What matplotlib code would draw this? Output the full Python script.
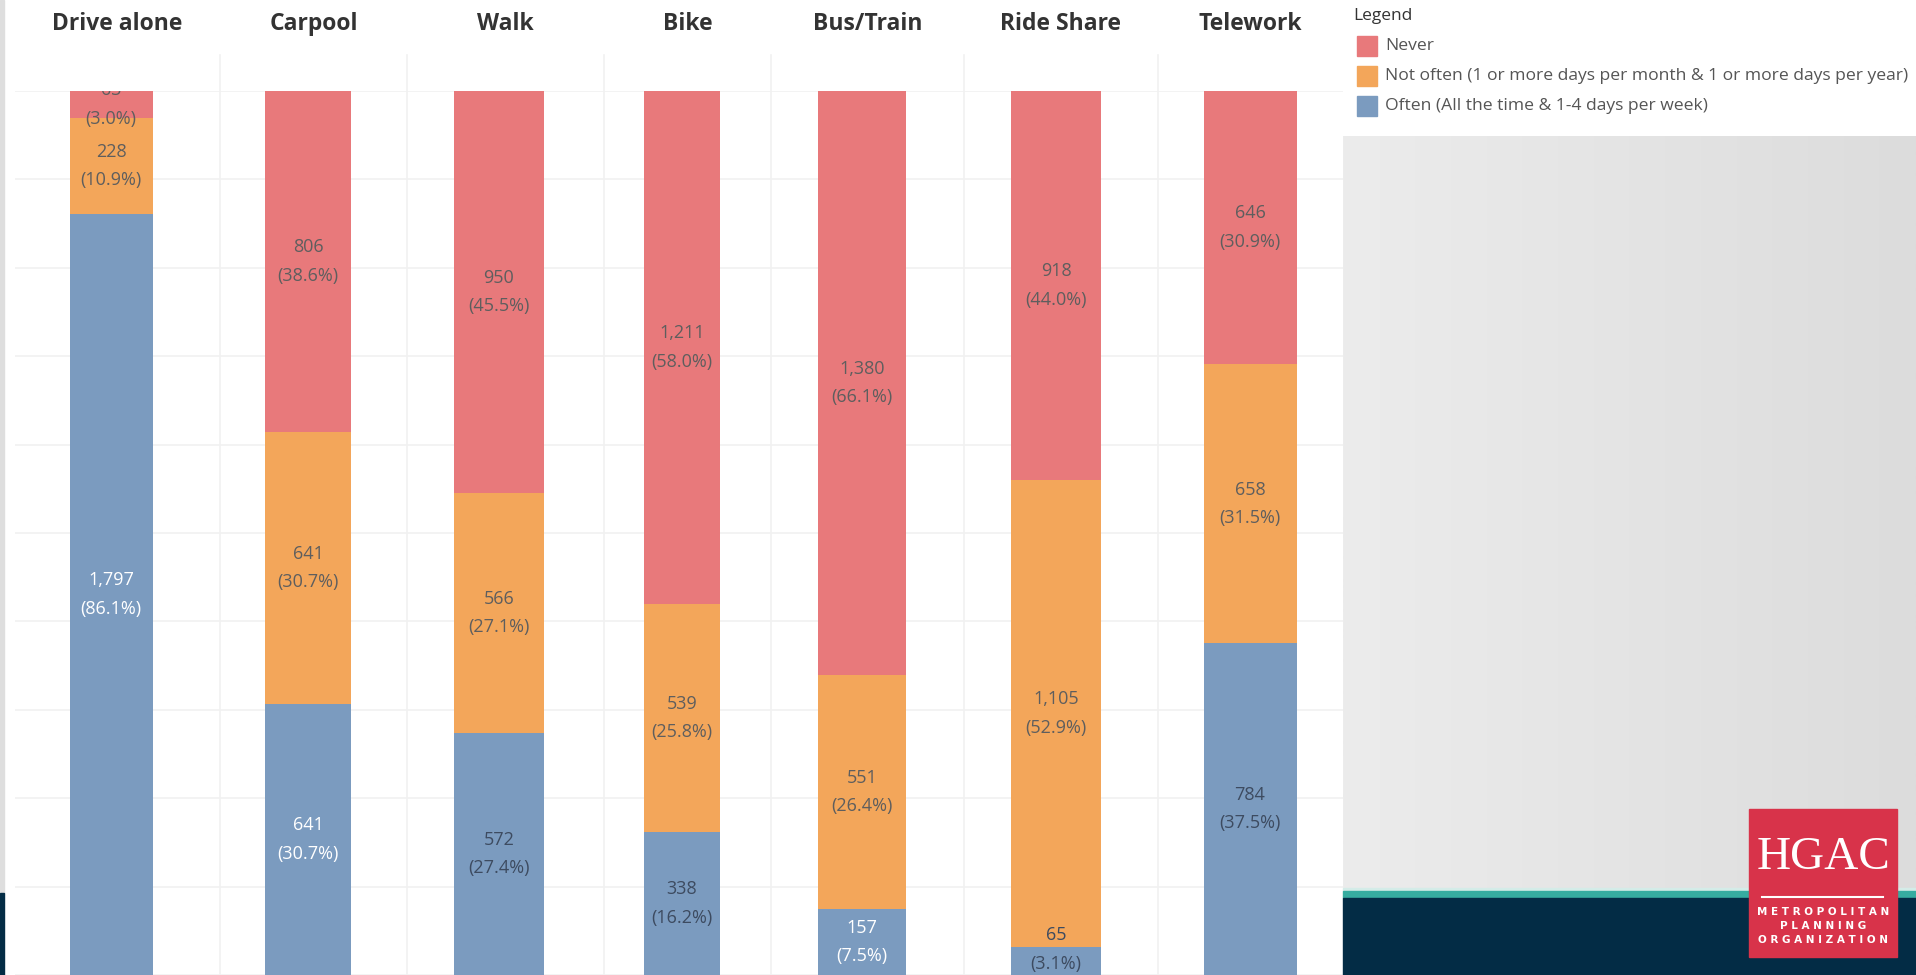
import numpy as np
import matplotlib
matplotlib.use("Agg")
import matplotlib.pyplot as plt
from matplotlib.patches import Rectangle
from matplotlib.lines import Line2D
from matplotlib.colors import LinearSegmentedColormap

# survey counts per commute mode (stacked: often at bottom, never on top)
modes = ["Drive alone", "Carpool", "Walk", "Bike", "Bus/Train", "Ride Share", "Telework"]
never = [63, 806, 950, 1211, 1380, 918, 646]
not_often = [228, 641, 566, 539, 551, 1105, 658]
often = [1797, 641, 572, 338, 157, 65, 784]
never_pct = [3.0, 38.6, 45.5, 58.0, 66.1, 44.0, 30.9]
not_often_pct = [10.9, 30.7, 27.1, 25.8, 26.4, 52.9, 31.5]
often_pct = [86.1, 30.7, 27.4, 16.2, 7.5, 3.1, 37.5]
series_names = ["Never",
                "Not often (1 or more days per month & 1 or more days per year)",
                "Often (All the time & 1-4 days per week)"]

# layout (pixels of the 1916x975 canvas)
W, H = 1916, 975
pane_edges = [15, 220, 407, 604, 771, 964, 1158, 1343]
bar_centers = [111, 308, 499, 682, 862, 1056, 1250]
bar_widths = [83, 86, 90, 76, 88, 90, 93]
bar_top_px = 91
white_often_label = [True, True, False, False, True, False, False]

c_never = "#e8797b"
c_notoften = "#f3a65a"
c_often = "#7b9bbf"
label_dark = "#5e5e5e"
grid_c = "#f1f1f1"


def px_box(x0, y0, x1, y1):
    return [x0 / W, 1 - y1 / H, (x1 - x0) / W, (y1 - y0) / H]


fig = plt.figure(figsize=(W / 100, H / 100), dpi=100)
fig.patch.set_facecolor("white")

# slide decoration on the right
bg = fig.add_axes(px_box(1343, 136, W, 890))
grad = np.linspace(0, 1, 256).reshape(1, -1)
bg.imshow(grad, aspect="auto", cmap=LinearSegmentedColormap.from_list("g", ["#ececec", "#dcdcdc"]))
bg.axis("off")
fig.patches.append(Rectangle((1343 / W, 1 - 891 / H), 1, 3 / H, transform=fig.transFigure,
                             color="#d4ece8", zorder=1))
fig.patches.append(Rectangle((1343 / W, 1 - 898 / H), 1, 7 / H, transform=fig.transFigure,
                             color="#36aca0", zorder=1))
fig.patches.append(Rectangle((1343 / W, 0), 1, 1 - 898 / H, transform=fig.transFigure,
                             color="#032c45", zorder=1))
fig.patches.append(Rectangle((0, 1 - 893 / H), 4 / W, 893 / H, transform=fig.transFigure,
                             color="#dedede", zorder=1))
fig.patches.append(Rectangle((0, 0), 4 / W, 1 - 893 / H, transform=fig.transFigure,
                             color="#032c45", zorder=1))

total = max(np.array(never) + np.array(not_often) + np.array(often))
ticks = np.arange(0, total + 1, total / 10)

for i, mode in enumerate(modes):
    x0, x1 = pane_edges[i], pane_edges[i + 1]
    ax = fig.add_axes(px_box(x0, bar_top_px, x1, H))
    pw = x1 - x0
    pos = (bar_centers[i] - (x0 + x1) / 2) / pw
    bw = bar_widths[i] / pw
    ax.set_xlim(-0.5, 0.5)
    ax.set_ylim(0, total)
    for t in ticks:
        ax.axhline(t, color=grid_c, lw=1.2, zorder=0)
    ax.bar(pos, often[i], bw, color=c_often, zorder=2)
    ax.bar(pos, not_often[i], bw, bottom=often[i], color=c_notoften, zorder=2)
    ax.bar(pos, never[i], bw, bottom=often[i] + not_often[i], color=c_never, zorder=2)

    segs = [(often[i], often_pct[i], 0, "white" if white_often_label[i] else "#3d4b60"),
            (not_often[i], not_often_pct[i], often[i], label_dark),
            (never[i], never_pct[i], often[i] + not_often[i], label_dark)]
    for val, pct, base, col in segs:
        yc = base + val / 2
        if base == 0:
            yc = max(yc, 0.029 * total)
        ax.text(pos, yc, f"{val:,}\n({pct:.1f}%)", ha="center", va="center",
                fontsize=13, color=col, linespacing=1.75, family="Open Sans",
                zorder=3, clip_on=True)
    ax.axis("off")
    fig.text((x0 + x1) / 2 / W, 1 - 24 / H, mode, ha="center", va="center",
             fontsize=16.5, fontweight="bold", color="#333333", family="Open Sans")

# faint pane separators
for xe in pane_edges[1:-1]:
    fig.lines.append(Line2D([xe / W, xe / W], [0, 1 - 55 / H], transform=fig.transFigure,
                            color=grid_c, lw=1.2))

# legend
fig.text(1353 / W, 1 - 16 / H, "Legend", ha="left", va="center", fontsize=12.5,
         color="#333333", family="Open Sans")
for k, (name, col) in enumerate(zip(series_names, [c_never, c_notoften, c_often])):
    yc = 46 + 30 * k
    fig.patches.append(Rectangle((1357 / W, 1 - (yc + 10) / H), 20 / W, 20 / H,
                                 transform=fig.transFigure, color=col))
    fig.text(1385 / W, 1 - yc / H, name, ha="left", va="center", fontsize=12.6,
             color="#555555", family="Open Sans")

# logo
fig.patches.append(Rectangle((1749 / W, 1 - 957 / H), 148 / W, 148 / H,
                             transform=fig.transFigure, color="#d8334a", zorder=3))
fig.text(1823 / W, 1 - 858 / H, "HGAC", ha="center", va="center", fontsize=34,
         color="white", family="Liberation Serif", zorder=4)
fig.lines.append(Line2D([1762 / W, 1883 / W], [1 - 897 / H, 1 - 897 / H],
                        transform=fig.transFigure, color="white", lw=1.5, zorder=4))
for txt, yy in [("METROPOLITAN", 912), ("PLANNING", 926), ("ORGANIZATION", 940)]:
    fig.text(1823 / W, 1 - yy / H, " ".join(txt), ha="center", va="center", fontsize=7.5,
             fontweight="bold", color="white", family="DejaVu Sans", zorder=4)

fig.savefig("out.png", dpi=100, facecolor=fig.get_facecolor())
